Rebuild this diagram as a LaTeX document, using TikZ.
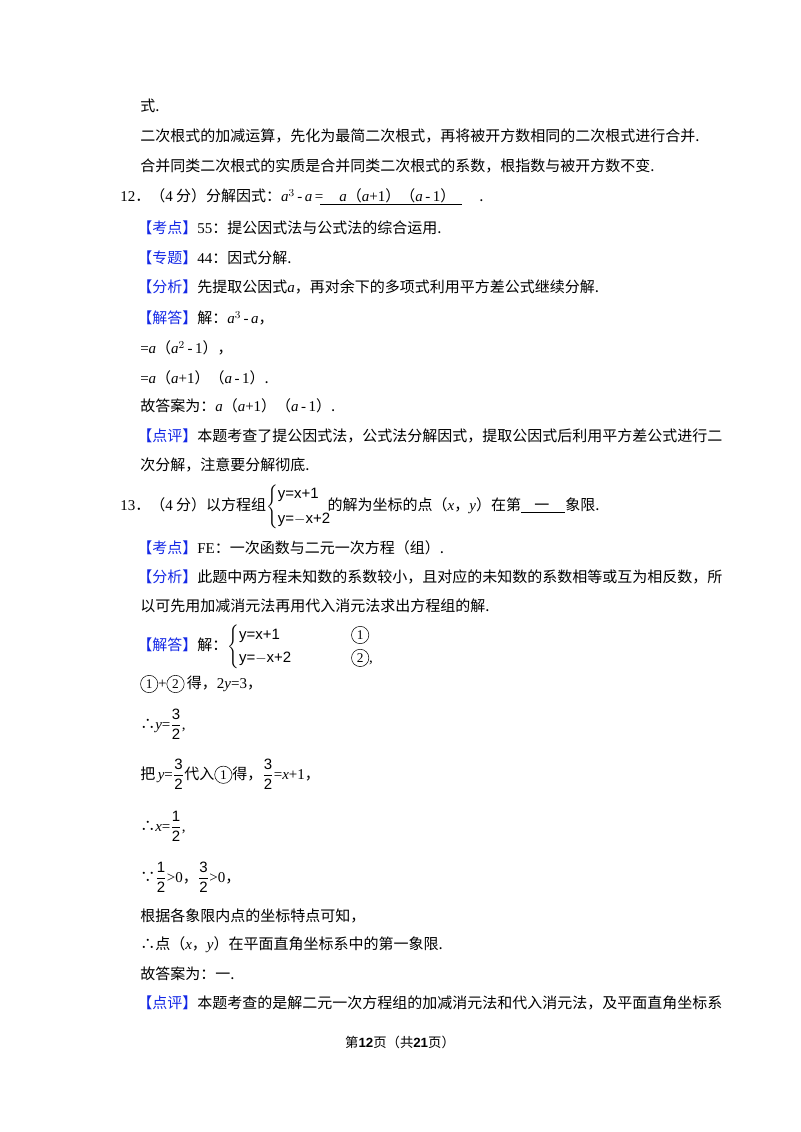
\documentclass[tikz,border=0pt]{standalone}
\usepackage{amsmath}
\usepackage{fontspec}
\setmainfont{Noto Sans CJK SC}
\newfontfamily\tnr{Liberation Serif}
\newfontfamily\ars{Liberation Sans}
\newcommand{\vi}[1]{{\tnr\itshape #1}}
\newcommand{\rmx}[1]{{\tnr #1}}
\definecolor{kblue}{RGB}{20,40,230}
\newcommand{\ktag}[1]{\textcolor{kblue}{【#1】}}
\newcommand{\circnum}[1]{\tikz[baseline=(c.base)]\node[draw,circle,inner sep=1pt,minimum size=13pt,font=\tnr\fontsize{10}{10}\selectfont](c){#1};}
\begin{document}
\begin{tikzpicture}[x=0.75pt,y=-0.75pt,
  txt/.style={anchor=west,inner sep=0pt,font=\fontsize{11.25}{14}\selectfont}]
\useasboundingbox (0,0) rectangle (800,1132);
\fill[white] (0,0) rectangle (800,1132);
\node[txt] (l1) at (140,106) {式.};
\node[txt] (l2) at (140,136) {二次根式的加减运算，先化为最简二次根式，再将被开方数相同的二次根式进行合并.};
\node[txt] (l3) at (140,166) {合并同类二次根式的实质是合并同类二次根式的系数，根指数与被开方数不变.};
\node[txt] (q12) at (120,196) {\rmx{12}．（\rmx{4} 分）分解因式：\vi{a}$^{\rmx{3}}$\,\rmx{-}\,\vi{a}\,\rmx{=}\hspace{12pt}\vi{a}（\vi{a}\rmx{+1}）（\vi{a}\,\rmx{-}\,\rmx{1}）\hspace{18pt}.};
\coordinate (u1) at (320,204); \coordinate (u2) at (462,204);
\draw[line width=0.6pt] (u1) -- (u2);
\node[txt] (k12) at (137,228) {\ktag{考点}\rmx{55}：提公因式法与公式法的综合运用.};
\node[txt] (z12) at (137,258) {\ktag{专题}\rmx{44}：因式分解.};
\node[txt] (f12) at (137,287) {\ktag{分析}先提取公因式\vi{a}，再对余下的多项式利用平方差公式继续分解.};
\node[txt] (j12) at (137,318) {\ktag{解答}解：\vi{a}$^{\rmx{3}}$\,\rmx{-}\,\vi{a}，};
\node[txt] (s1) at (140,348) {\rmx{=}\vi{a}（\vi{a}$^{\rmx{2}}$\,\rmx{-}\,\rmx{1}），};
\node[txt] (s2) at (140,378) {\rmx{=}\vi{a}（\vi{a}\rmx{+1}）（\vi{a}\,\rmx{-}\,\rmx{1}）.};
\node[txt] (s3) at (140,406) {故答案为：\vi{a}（\vi{a}\rmx{+1}）（\vi{a}\,\rmx{-}\,\rmx{1}）.};
\node[txt] (d12) at (137,436) {\ktag{点评}本题考查了提公因式法，公式法分解因式，提取公因式后利用平方差公式进行二};
\node[txt] (d12b) at (140,465) {次分解，注意要分解彻底.};
\node[txt] (q13) at (120,507) {\rmx{13}．（\rmx{4} 分）以方程组$\left\{\begin{array}{@{}l@{}}\mbox{\ars y=x+1}\\[5pt]\mbox{\ars y=$-$x+2}\end{array}\right.$\hspace{-3pt}的解为坐标的点（\vi{x}，\vi{y}）在第\underline{\hspace{10pt}一\hspace{12pt}}象限.};
\node[txt] (k13) at (137,548) {\ktag{考点}\rmx{FE}：一次函数与二元一次方程（组）.};
\node[txt] (f13) at (137,577) {\ktag{分析}此题中两方程未知数的系数较小，且对应的未知数的系数相等或互为相反数，所};
\node[txt] (f13b) at (140,606) {以可先用加减消元法再用代入消元法求出方程组的解.};
\node[txt] (j13) at (137,647) {\ktag{解答}解：$\left\{\begin{array}{@{}l@{\hspace{45pt}}l@{}}\mbox{\ars y=x+1} & \mbox{\circnum{1}}\\[3pt]\mbox{\ars y=$-$x+2} & \mbox{\circnum{2}\rmx{,}}\end{array}\right.$};
\node[txt] (t1) at (140,684) {\circnum{1}\rmx{+}\circnum{2}\,得，\rmx{2}\vi{y}\rmx{=3}，};
\node[txt] (t2) at (140,724) {∴\vi{y}\rmx{=}$\dfrac{\mbox{\ars 3}}{\mbox{\ars 2}}$\rmx{,}};
\node[txt] (t3) at (140,774) {把\,\vi{y}\rmx{=}$\dfrac{\mbox{\ars 3}}{\mbox{\ars 2}}$代入\circnum{1}得，$\dfrac{\mbox{\ars 3}}{\mbox{\ars 2}}$\rmx{=}\vi{x}\rmx{+1}，};
\node[txt] (t4) at (140,826) {∴\vi{x}\rmx{=}$\dfrac{\mbox{\ars 1}}{\mbox{\ars 2}}$\rmx{,}};
\node[txt] (t5) at (140,877) {∵$\dfrac{\mbox{\ars 1}}{\mbox{\ars 2}}$\rmx{>0}，$\dfrac{\mbox{\ars 3}}{\mbox{\ars 2}}$\rmx{>0}，};
\node[txt] (t6) at (140,916) {根据各象限内点的坐标特点可知，};
\node[txt] (t7) at (140,945) {∴点（\vi{x}，\vi{y}）在平面直角坐标系中的第一象限.};
\node[txt] (t8) at (140,974) {故答案为：一.};
\node[txt] (d13) at (137,1003) {\ktag{点评}本题考查的是解二元一次方程组的加减消元法和代入消元法，及平面直角坐标系};
\node[inner sep=0pt,font=\fontsize{10}{12}\selectfont] (foot) at (400,1042) {第{\ars\bfseries 12}页（共{\ars\bfseries 21}页）};
\end{tikzpicture}
\end{document}
